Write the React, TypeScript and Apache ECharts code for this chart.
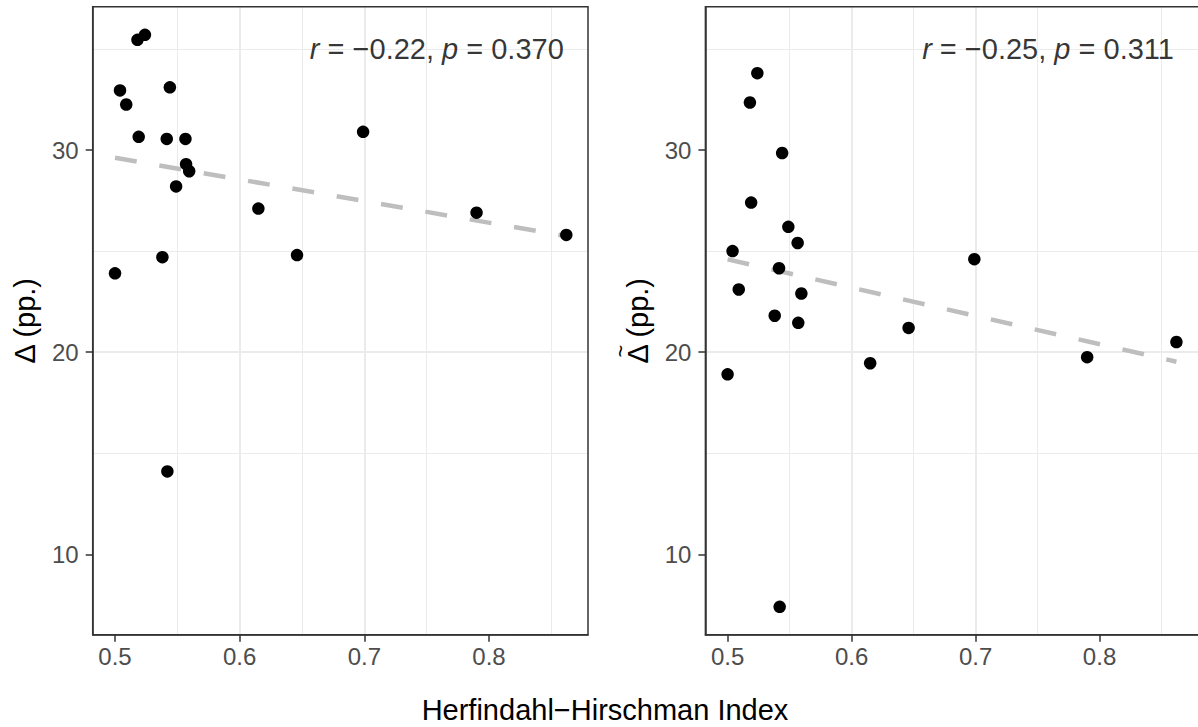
import React, { useEffect, useRef } from "react";
import * as echarts from "echarts";

// Herfindahl-Hirschman Index of each observation
const hhi = [0.5, 0.504, 0.509, 0.518, 0.524, 0.519, 0.544, 0.5415, 0.5565, 0.557, 0.5595, 0.549, 0.538, 0.615, 0.646, 0.699, 0.79, 0.862, 0.542];
// Left panel: Δ (pp.)
const deltaValues = [23.9, 32.95, 32.25, 35.45, 35.7, 30.65, 33.1, 30.55, 30.55, 29.3, 28.95, 28.2, 24.7, 27.1, 24.8, 30.9, 26.9, 25.8, 14.1];
// Right panel: Δ̃ (pp.)
const deltaTildeValues = [18.9, 25.0, 23.1, 32.35, 33.8, 27.4, 29.85, 24.15, 25.4, 21.45, 22.9, 26.2, 21.8, 19.45, 21.2, 24.6, 19.75, 20.5, 7.4];

const xTicks = [0.5, 0.6, 0.7, 0.8];
const yTicks = [10, 20, 30];
const statsLeft = { r: "−0.22", p: "0.370" };
const statsRight = { r: "−0.25", p: "0.311" };
const yTitle = "Δ (pp.)";
const tildeMark = "~";
const xTitle = "Herfindahl−Hirschman Index";
const annotationPos = [0.86, 35];

const X_MIN = 0.4821;
const X_MAX = 0.8794;
const Y_MIN = 6.02;
const Y_MAX = 37.09;

const FONT = "'Liberation Sans', Arial, Helvetica, sans-serif";

function linearFit(xs: number[], ys: number[]) {
  const n = xs.length;
  const mx = xs.reduce((a, b) => a + b, 0) / n;
  const my = ys.reduce((a, b) => a + b, 0) / n;
  let sxy = 0;
  let sxx = 0;
  for (let i = 0; i < n; i++) {
    sxy += (xs[i] - mx) * (ys[i] - my);
    sxx += (xs[i] - mx) * (xs[i] - mx);
  }
  const b = sxy / sxx;
  const a = my - b * mx;
  const x0 = Math.min(...xs);
  const x1 = Math.max(...xs);
  return [
    [x0, a + b * x0],
    [x1, a + b * x1],
  ];
}

const GRID_TOP = 6.7;
const GRID_H = 628;
const GRID_W = 495.3;
const LEFTS = [92.7, 705.4];

function xAxisCfg(gridIndex: number) {
  return {
    type: "value",
    gridIndex,
    min: X_MIN,
    max: X_MAX,
    minInterval: 0.1,
    maxInterval: 0.1,
    axisLine: { show: true, onZero: false, lineStyle: { color: "#333333", width: 1.5 } },
    axisTick: { show: true, length: 7, customValues: xTicks, lineStyle: { color: "#333333", width: 1.5 } },
    axisLabel: {
      customValues: xTicks,
      formatter: (v: number) => v.toFixed(1),
      color: "#4D4D4D",
      fontSize: 24,
      fontFamily: FONT,
      margin: 10,
    },
    splitLine: { show: true, showMinLine: false, showMaxLine: false, lineStyle: { color: "#EBEBEB", width: 2 } },
    minorTick: { show: false, splitNumber: 2 },
    minorSplitLine: { show: true, lineStyle: { color: "#EBEBEB", width: 1 } },
  };
}

function yAxisCfg(gridIndex: number, name: string) {
  return {
    type: "value",
    gridIndex,
    min: Y_MIN,
    max: Y_MAX,
    minInterval: 10,
    maxInterval: 10,
    name,
    nameLocation: "middle",
    nameGap: 53,
    nameTextStyle: { fontSize: 29, color: "#000000", fontFamily: FONT },
    axisLine: { show: true, onZero: false, lineStyle: { color: "#333333", width: 1.5 } },
    axisTick: { show: true, length: 7, customValues: yTicks, lineStyle: { color: "#333333", width: 1.5 } },
    axisLabel: {
      customValues: yTicks,
      color: "#4D4D4D",
      fontSize: 24,
      fontFamily: FONT,
      margin: 14,
    },
    splitLine: { show: true, showMinLine: false, showMaxLine: false, lineStyle: { color: "#EBEBEB", width: 2 } },
    minorTick: { show: false, splitNumber: 2 },
    minorSplitLine: { show: true, lineStyle: { color: "#EBEBEB", width: 1 } },
  };
}

function panelSeries(idx: number, ys: number[], stats: { r: string; p: string }) {
  return [
    {
      type: "line",
      xAxisIndex: idx,
      yAxisIndex: idx,
      data: linearFit(hhi, ys),
      showSymbol: false,
      silent: true,
      z: 2,
      lineStyle: { color: "#BEBEBE", width: 4.5, type: [22, 23] },
    },
    {
      type: "scatter",
      xAxisIndex: idx,
      yAxisIndex: idx,
      data: hhi.map((x, i) => [x, ys[i]]),
      symbolSize: 12.5,
      itemStyle: { color: "#000000", opacity: 1 },
      z: 3,
    },
    {
      type: "scatter",
      xAxisIndex: idx,
      yAxisIndex: idx,
      data: [annotationPos],
      symbolSize: 0,
      silent: true,
      z: 4,
      label: {
        show: true,
        position: "left",
        distance: 0,
        formatter: `{i|r} = ${stats.r}, {i|p} = ${stats.p}`,
        color: "#000000",
        fontSize: 29,
        fontFamily: FONT,
        rich: {
          i: { fontStyle: "italic", fontSize: 29, color: "#000000", fontFamily: FONT },
        },
      },
    },
  ];
}

export default function App() {
  const ref = useRef<HTMLDivElement>(null);
  useEffect(() => {
    if (!ref.current) return;
    const chart = echarts.init(ref.current, null, { renderer: "svg" });
    chart.setOption({
      animation: false,
      backgroundColor: "#FFFFFF",
      grid: LEFTS.map((l) => ({ left: l, top: GRID_TOP, width: GRID_W, height: GRID_H, containLabel: false })),
      xAxis: [xAxisCfg(0), xAxisCfg(1)],
      yAxis: [yAxisCfg(0, yTitle), yAxisCfg(1, yTitle)],
      series: [...panelSeries(0, deltaValues, statsLeft), ...panelSeries(1, deltaTildeValues, statsRight)],
      graphic: [
        ...LEFTS.map((l) => ({
          type: "rect",
          z: 100,
          silent: true,
          shape: { x: l, y: GRID_TOP, width: GRID_W, height: GRID_H },
          style: { fill: "transparent", stroke: "#333333", lineWidth: 1.5 },
        })),
        {
          type: "text",
          z: 100,
          x: 620,
          y: 351,
          rotation: Math.PI / 2,
          style: {
            text: tildeMark,
            fontSize: 22,
            fontFamily: FONT,
            fill: "#000000",
            textAlign: "center",
            textVerticalAlign: "middle",
          },
        },
        {
          type: "text",
          z: 100,
          x: 605,
          y: 710,
          style: {
            text: xTitle,
            fontSize: 29,
            fontFamily: FONT,
            fill: "#000000",
            textAlign: "center",
            textVerticalAlign: "middle",
          },
        },
      ],
    });
    return () => chart.dispose();
  }, []);
  return <div ref={ref} style={{ position: "absolute", left: 0, top: 0, width: 1198, height: 727 }} />;
}
